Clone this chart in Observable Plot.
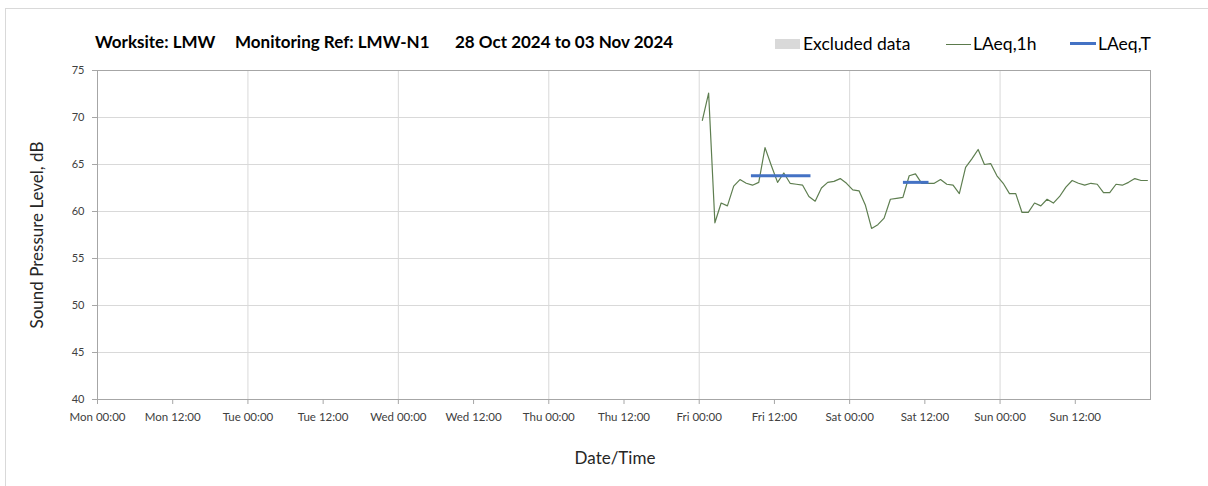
<!DOCTYPE html>
<html>
<head>
<meta charset="utf-8">
<script src="https://cdn.jsdelivr.net/npm/d3@7"></script>
<script src="https://cdn.jsdelivr.net/npm/@observablehq/plot@0.6"></script>
<style>
  body { margin: 0; background: #fff; font-family: Lato, "Open Sans", sans-serif; }
  #wrap { position: relative; width: 1208px; height: 486px; overflow: hidden; }
  #frame { position: absolute; left: 5px; top: 8px; width: 1210px; height: 500px; border: 1px solid #d9d9d9; box-sizing: border-box; }
  .ttl { position: absolute; top: 31px; font-weight: bold; font-size: 17px; color: #000; white-space: nowrap; }
  .leg { position: absolute; top: 33px; font-size: 17.5px; color: #000; white-space: nowrap; }
  .sw { position: absolute; }
  #chart { position: absolute; left: 0; top: 0; }
</style>
</head>
<body>
<div id="wrap">
  <div id="frame"></div>
  <div id="chart"></div>
  <div class="ttl" style="left:95px">Worksite: LMW</div>
  <div class="ttl" style="left:235px">Monitoring Ref: LMW-N1</div>
  <div class="ttl" style="left:455px">28 Oct 2024 to 03 Nov 2024</div>
  <div class="sw" style="left:775px;top:39px;width:25px;height:10px;background:#d9d9d9"></div>
  <div class="leg" style="left:803px">Excluded data</div>
  <div class="sw" style="left:946px;top:44px;width:25px;height:1px;background:#5b7a4c"></div>
  <div class="leg" style="left:973px">LAeq,1h</div>
  <div class="sw" style="left:1070px;top:42px;width:26px;height:3px;background:#4472c4"></div>
  <div class="leg" style="left:1098px">LAeq,T</div>
</div>
<script>
// ---- data ----
const weekStart = "2024-10-28T00:00Z";   // Mon 00:00
const weekEnd = "2024-11-04T00:00Z";     // next Mon 00:00
const hourlyStart = "2024-11-01T00:30Z"; // first LAeq,1h point (Fri)
const laeq1h = [
  69.7, 72.6, 58.8, 60.9, 60.6, 62.7, 63.4, 63.0, 62.8, 63.1,
  66.8, 64.9, 63.1, 64.1, 63.0, 62.9, 62.8, 61.6, 61.1, 62.5,
  63.1, 63.2, 63.5, 63.0, 62.3, 62.2, 60.7, 58.2, 58.6, 59.3,
  61.3, 61.4, 61.5, 63.8, 64.0, 63.0, 63.0, 63.0, 63.4, 62.9,
  62.8, 61.9, 64.7, 65.6, 66.6, 65.0, 65.1, 63.8, 63.0, 61.9,
  61.9, 59.9, 59.9, 60.9, 60.6, 61.3, 60.9, 61.6, 62.6, 63.3,
  63.0, 62.8, 63.0, 62.9, 62.0, 62.0, 62.9, 62.8, 63.1, 63.5,
  63.3, 63.3
];
const laeqTStart = ["2024-11-01T08:15Z", "2024-11-02T08:30Z"];
const laeqTEnd = ["2024-11-01T17:45Z", "2024-11-02T12:35Z"];
const laeqTValue = [63.8, 63.1];
const yTicks = [40, 45, 50, 55, 60, 65, 70, 75];
const xTickLabels = [
  "Mon 00:00", "Mon 12:00", "Tue 00:00", "Tue 12:00", "Wed 00:00", "Wed 12:00", "Thu 00:00",
  "Thu 12:00", "Fri 00:00", "Fri 12:00", "Sat 00:00", "Sat 12:00", "Sun 00:00", "Sun 12:00"
];
const yTitle = "Sound Pressure Level, dB";
const xTitle = "Date/Time";

// ---- build ----
const t0 = new Date(hourlyStart).getTime();
const hourly = laeq1h.map((v, i) => ({time: new Date(t0 + i * 3600e3), value: v}));
const periods = laeqTValue.map((v, i) => ({start: new Date(laeqTStart[i]), end: new Date(laeqTEnd[i]), value: v}));
const w0 = new Date(weekStart).getTime();
const xTicks = xTickLabels.map((_, i) => new Date(w0 + i * 12 * 3600e3));
const labelOf = new Map(xTicks.map((d, i) => [+d, xTickLabels[i]]));
const dayGrid = xTicks.filter((d, i) => i % 2 === 0 && i > 0);

const chart = Plot.plot({
  width: 1208,
  height: 486,
  marginLeft: 97,
  marginRight: 58,
  marginTop: 70,
  marginBottom: 87,
  style: {fontFamily: "Lato, 'Open Sans', sans-serif", fontSize: "12px", color: "#404040", background: "transparent", overflow: "visible"},
  x: {type: "utc", domain: [new Date(weekStart), new Date(weekEnd)]},
  y: {domain: [40, 75]},
  marks: [
    Plot.gridY(yTicks.filter(t => t > 40 && t < 75), {stroke: "#d9d9d9", strokeOpacity: 1}),
    Plot.gridX(dayGrid, {stroke: "#d9d9d9", strokeOpacity: 1}),
    Plot.frame({stroke: "#a6a6a6"}),
    Plot.axisY(yTicks, {tickSize: 5, tickPadding: 8, stroke: "#a6a6a6", fill: "#404040", fontSize: 11, label: null}),
    Plot.axisX(xTicks, {tickSize: 5, tickPadding: 8, stroke: "#a6a6a6", fill: "#404040", fontSize: 11.5,
      tickFormat: d => labelOf.get(+d), label: null}),
    Plot.text([yTitle], {frameAnchor: "left", dx: -60, rotate: -90, textAnchor: "middle", fontSize: 17, fill: "#262626"}),
    Plot.text([xTitle], {frameAnchor: "bottom", dy: 64, dx: -9, fontSize: 17, fill: "#262626"}),
    Plot.line(hourly, {x: "time", y: "value", stroke: "#5e7e50", strokeWidth: 1.2}),
    Plot.link(periods, {x1: "start", x2: "end", y1: "value", y2: "value", stroke: "#4472c4", strokeWidth: 3})
  ]
});
document.getElementById("chart").appendChild(chart);
</script>
</body>
</html>
